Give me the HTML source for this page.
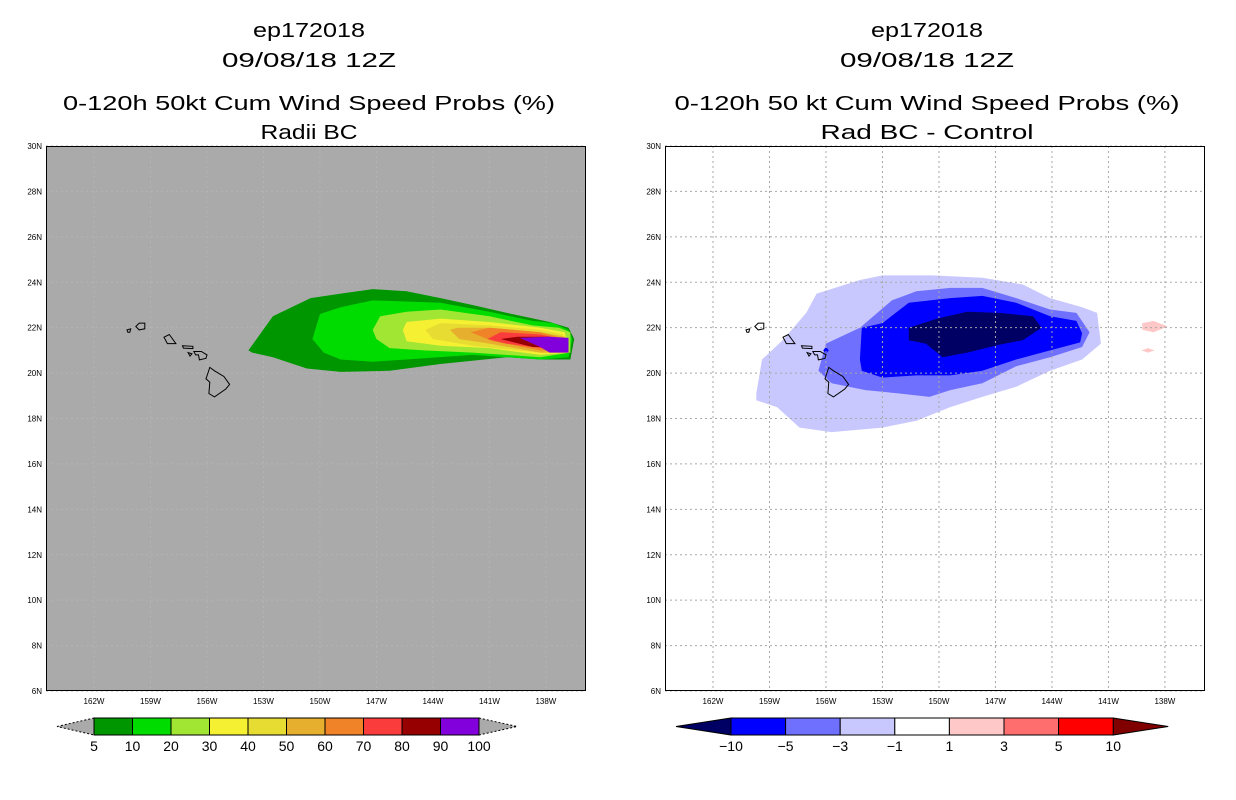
<!DOCTYPE html>
<html><head><meta charset="utf-8"><style>
html,body{margin:0;padding:0;background:#fff;}
svg{display:block;font-family:"Liberation Sans",sans-serif;}
</style></head><body>
<svg id="chart" width="1236" height="800" viewBox="0 0 1236 800">
<g id="left"></g>
<g id="right"></g>
</svg>
<script>
// ---- data ----
const latTicks=[30,28,26,24,22,20,18,16,14,12,10,8,6];
const lonTicks=[162,159,156,153,150,147,144,141,138];
const probLevels=[5,10,20,30,40,50,60,70,80,90,100];
const probColors=['#009600','#00dc00','#a0e632','#f5f032','#e6dc32','#e6af2d','#f08228','#fa3c3c','#960000','#8200dc'];
const diffLevels=[-10,-5,-3,-1,1,3,5,10];
const diffColors=['#0000ff','#7070ff','#c8c8ff','#ffffff','#ffc8c8','#ff6e6e','#ff0000'];
// contour polygons [lonW, latN]
const prob5=[[153.8,21.0],[152.5,22.5],[150.5,23.3],[148.9,23.5],[147.2,23.7],[145.4,23.6],[143.6,23.3],[141.9,23.0],[139.8,22.6],[137.8,22.25],[136.8,22.0],[136.5,21.5],[136.7,20.6],[138.3,20.6],[140.1,20.7],[143.6,20.4],[146.3,20.1],[148.9,20.05],[150.7,20.2],[152.5,20.7],[153.6,20.9]];
const prob10=[[150.4,21.5],[150.0,22.6],[148.9,22.9],[147.2,23.2],[143.6,23.1],[141.0,22.7],[138.7,22.3],[137.6,22.2],[136.8,21.9],[136.6,21.5],[136.8,20.7],[138.3,20.6],[141.9,20.8],[145.4,20.6],[147.2,20.5],[148.9,20.6],[149.8,20.9]];
const prob20=[[147.2,21.9],[146.8,22.5],[145.4,22.7],[143.6,22.8],[141.0,22.5],[138.7,22.1],[137.3,22.0],[136.7,21.8],[136.7,20.9],[138.3,20.7],[141.9,20.9],[144.5,21.0],[146.3,21.1],[147.0,21.5]];
const prob30=[[145.6,21.9],[145.4,22.25],[143.6,22.4],[141.0,22.25],[138.3,22.0],[137.0,21.8],[136.8,20.9],[138.3,20.8],[141.0,21.1],[143.6,21.2],[145.4,21.4]];
const prob40=[[144.4,21.9],[143.6,22.2],[141.0,22.1],[138.3,21.9],[137.1,21.7],[136.9,21.0],[138.3,20.9],[141.9,21.2],[144.0,21.5]];
const prob50=[[143.1,21.9],[142.7,22.0],[141.0,22.0],[138.3,21.8],[137.0,21.6],[136.9,20.9],[138.3,20.9],[141.0,21.3],[142.6,21.5]];
const prob60=[[142.0,21.8],[141.0,22.0],[138.3,21.8],[137.0,21.5],[137.0,21.0],[138.3,21.0],[140.8,21.4]];
const prob70=[[141.1,21.5],[140.4,21.8],[138.3,21.7],[137.2,21.5],[137.2,21.1],[138.3,21.1],[140.1,21.3]];
const prob80=[[140.4,21.5],[139.5,21.6],[137.8,21.6],[137.3,21.4],[137.3,21.15],[138.7,21.15]];
const prob90=[[139.4,21.55],[137.8,21.6],[136.8,21.55],[136.8,20.9],[137.8,20.9],[138.3,21.15]];
const diff1=[[159.7,19.1],[159.4,20.6],[158.3,21.45],[157.05,22.65],[156.5,23.5],[154.2,24.1],[153.0,24.3],[150.35,24.3],[147.7,24.2],[145.55,23.9],[144.1,23.3],[142.4,22.9],[141.6,22.65],[141.4,21.3],[142.4,20.6],[144.1,20.1],[145.9,19.4],[147.7,18.95],[149.4,18.5],[151.2,17.9],[153.0,17.6],[155.7,17.4],[157.4,17.6],[158.6,18.5],[159.7,18.8]];
const diff3=[[156.4,20.1],[156.0,21.3],[154.2,22.0],[152.5,23.2],[151.2,23.6],[149.4,23.75],[147.7,23.75],[145.9,23.3],[144.1,22.8],[142.7,22.65],[142.0,21.8],[142.4,21.15],[144.1,20.7],[145.9,20.3],[147.7,19.55],[149.4,19.25],[150.5,18.95],[152.1,19.1],[153.9,19.25],[155.7,19.55]];
const diff5=[[154.2,20.6],[154.1,22.0],[153.0,22.2],[151.6,23.1],[149.4,23.3],[147.7,23.4],[145.9,23.1],[144.1,22.5],[142.7,22.3],[142.4,21.75],[142.5,21.35],[144.1,21.0],[145.9,20.6],[147.7,20.1],[149.4,19.9],[151.2,19.9],[153.0,19.8],[154.1,20.1]];
const diff5b=[[156.0,21.15],[155.85,21.0],[156.0,20.85],[156.15,21.0]];
const diff10=[[151.6,21.45],[151.6,22.0],[150.1,22.4],[148.5,22.7],[146.8,22.65],[145.0,22.5],[144.55,22.0],[145.55,21.45],[146.8,21.25],[148.5,20.9],[149.8,20.7],[150.7,21.3]];
const diffP1=[[139.2,22.2],[138.6,22.3],[137.85,22.05],[138.6,21.8],[139.2,21.9]];
const diffP2=[[139.25,21.0],[138.9,21.1],[138.55,21.0],[138.9,20.9]];
const islands=[
 [[155.85,20.25],[155.6,20.1],[155.1,19.85],[154.8,19.5],[155.0,19.3],[155.6,18.95],[155.9,19.1],[155.85,19.6],[156.05,19.75],[155.95,20.0]],
 [[156.7,20.95],[156.5,20.95],[156.3,20.95],[156.0,20.8],[156.05,20.65],[156.4,20.58],[156.45,20.8],[156.6,20.8]],
 [[157.3,21.2],[156.75,21.18],[156.75,21.08],[157.25,21.1]],
 [[157.0,20.9],[156.8,20.85],[156.9,20.75]],
 [[158.28,21.58],[158.0,21.7],[157.65,21.3],[157.9,21.3],[158.1,21.3]],
 [[159.6,22.2],[159.3,22.2],[159.3,21.95],[159.6,21.9],[159.78,22.05]],
 [[160.25,21.9],[160.05,21.95],[160.1,21.8],[160.2,21.8]]
];
// ---- helpers ----
const NS='http://www.w3.org/2000/svg';
function mk(tag,attrs,parent){const e=document.createElementNS(NS,tag);for(const k in attrs)e.setAttribute(k,attrs[k]);parent.appendChild(e);return e;}
function makePanel(g,x0,bg){
  const top=146,bot=691,left=x0,right=x0+540;
  const lx=v=>(x0+48)+(162-v)*18.83;
  const ly=v=>top+(30-v)*(bot-top)/24;
  const pts=a=>a.map(p=>lx(p[0]).toFixed(1)+','+ly(p[1]).toFixed(1)).join(' ');
  const r=mk('rect',{x:left,y:top,width:540,height:545,fill:bg},g);
  
  
  return {lx,ly,pts,top,bot,left,right};
}
function grid(g,P,color){
  lonTicks.forEach(v=>{const l=mk('line',{x1:P.lx(v),x2:P.lx(v),y1:P.top,y2:P.bot,stroke:color,'stroke-width':1,'stroke-dasharray':'2,3'},g);
    
    });
  latTicks.forEach(v=>{const l=mk('line',{x1:P.left,x2:P.right,y1:P.ly(v),y2:P.ly(v),stroke:color,'stroke-width':1,'stroke-dasharray':'2,3'},g);
    
    });
}
function axes(g,P){
  const f=mk('rect',{x:P.left+0.5,y:P.top+0.5,width:539,height:544,fill:'none',stroke:'#000','stroke-width':1},g);
  
  
  latTicks.forEach(v=>{const t=mk('text',{x:P.left-4,y:P.ly(v)+3,'font-size':8,'text-anchor':'end',fill:'#000'},g);t.textContent=v+'N';
    
    });
  lonTicks.forEach(v=>{const t=mk('text',{x:P.lx(v),y:P.bot+13,'font-size':8,'text-anchor':'middle',fill:'#000'},g);t.textContent=v+'W';
    
    });
}
function coast(g,P){
  islands.forEach(a=>{const p=mk('polygon',{points:P.pts(a),fill:'none',stroke:'#000','stroke-width':1},g);
    
    });
}
function titles(g,cx,l3,l4,w3,w4){
  [['ep172018',37,112],['09/08/18 12Z',67,174],[l3,110,w3],[l4,139,w4]].forEach((t,i)=>{
    const e=mk('text',{x:cx,y:t[1],'font-size':20,'text-anchor':'middle',fill:'#000'},g);
    e.textContent=t[0];
    e.setAttribute('textLength',t[2]);
    e.setAttribute('lengthAdjust','spacingAndGlyphs');
    
    
  });
}
function poly(g,P,a,c,name){const p=mk('polygon',{points:P.pts(a),fill:c},g);
  
  }
// ---- left panel ----
const GL=document.getElementById('left');
const PL=makePanel(GL,46,'#aaaaaa');
grid(GL,PL,'#b4b4b4');
[prob5,prob10,prob20,prob30,prob40,prob50,prob60,prob70,prob80,prob90].forEach((a,i)=>poly(GL,PL,a,probColors[i],'prob-contour-'+probLevels[i]));
coast(GL,PL);axes(GL,PL);
titles(GL,309,'0-120h 50kt Cum Wind Speed Probs (%)','Radii BC',492,97);
// left colorbar
(function(){
  const x0=94,w=38.5,y=718,h=17;
  const t1=mk('polygon',{points:`57,726.5 ${x0},${y} ${x0},${y+h}`,fill:'#aaaaaa',stroke:'#000','stroke-dasharray':'2,2'},GL);
  
  
  const xe=x0+w*probColors.length;
  const t2=mk('polygon',{points:`${xe},${y} ${xe+38},726.5 ${xe},${y+h}`,fill:'#aaaaaa',stroke:'#000','stroke-dasharray':'2,2'},GL);
  
  
  probColors.forEach((c,i)=>{const r=mk('rect',{x:x0+i*w,y:y,width:w,height:h,fill:c,stroke:'#000','stroke-width':1},GL);
    
    });
  probLevels.forEach((v,i)=>{const t=mk('text',{x:x0+i*w,y:751,'font-size':14,'text-anchor':'middle'},GL);t.textContent=v;
    
    });
})();
// ---- right panel ----
const GR=document.getElementById('right');
const PR=makePanel(GR,665,'#ffffff');
[diff1,diff3,diff5,diff5b,diff10,diffP1,diffP2].forEach((a,i)=>{
  const cols=['#c8c8ff','#7070ff','#0000ff','#0000ff','#000064','#ffc8c8','#ffc8c8'];
  poly(GR,PR,a,cols[i],'diff-contour-'+i);
});
grid(GR,PR,'#a8a8a8');
coast(GR,PR);axes(GR,PR);
titles(GR,927,'0-120h 50 kt Cum Wind Speed Probs (%)','Rad BC - Control',505,213);
(function(){
  const x0=731,w=54.6,y=718,h=17;
  const t1=mk('polygon',{points:`676,726.5 ${x0},${y} ${x0},${y+h}`,fill:'#000064',stroke:'#000'},GR);
  
  
  const xe=x0+w*diffColors.length;
  const t2=mk('polygon',{points:`${xe},${y} ${xe+55},726.5 ${xe},${y+h}`,fill:'#800000',stroke:'#000'},GR);
  
  
  diffColors.forEach((c,i)=>{const r=mk('rect',{x:x0+i*w,y:y,width:w,height:h,fill:c,stroke:'#000','stroke-width':1},GR);
    
    });
  diffLevels.forEach((v,i)=>{const t=mk('text',{x:x0+i*w,y:751,'font-size':14,'text-anchor':'middle'},GR);t.textContent=(v<0?'\u2212'+(-v):v);
    
    });
})();
</script>
</body></html>
